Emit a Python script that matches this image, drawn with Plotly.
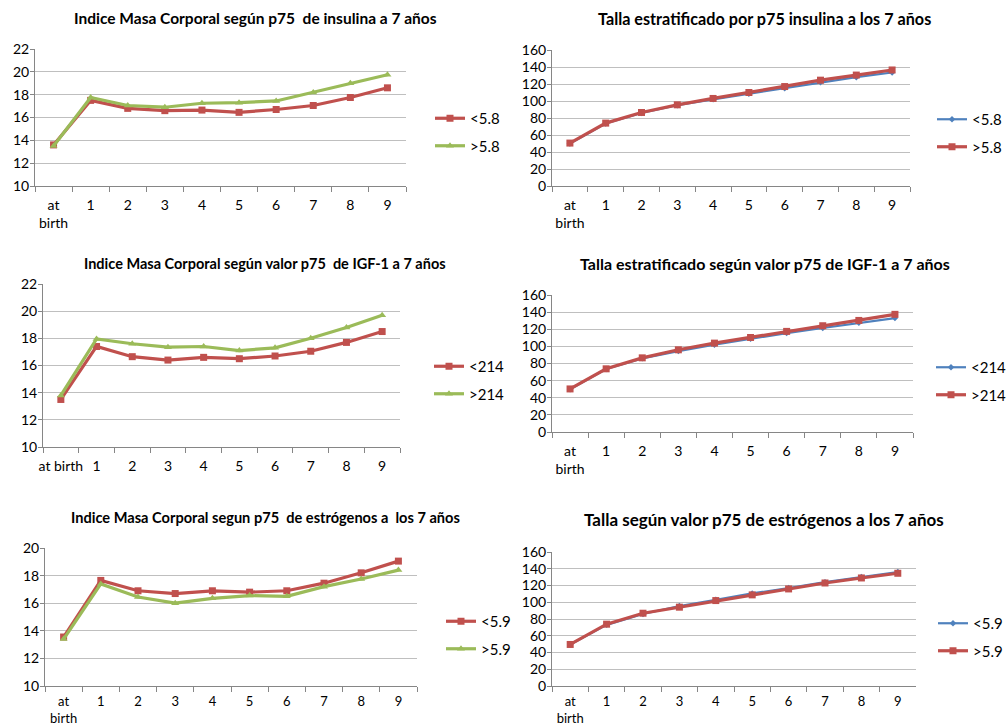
import plotly.graph_objects as go

# Age categories (x axis)
ages = ["at<br>birth", "1", "2", "3", "4", "5", "6", "7", "8", "9"]
ages_oneline = ["at birth", "1", "2", "3", "4", "5", "6", "7", "8", "9"]

# IMC by insulin p75
imc_ins_low = [13.6, 17.5, 16.8, 16.6, 16.65, 16.45, 16.7, 17.05, 17.75, 18.6]
imc_ins_high = [13.5, 17.75, 17.05, 16.9, 17.25, 17.3, 17.45, 18.2, 19.0, 19.75]
# Height by insulin p75
talla_ins_low = [50, 73.5, 86, 95, 102, 108.5, 115, 122, 128, 133.5]
talla_ins_high = [50.5, 74, 86.5, 95.5, 103, 110, 117, 124.5, 130.5, 136.5]

# IMC by IGF-1 p75
imc_igf_low = [13.5, 17.4, 16.65, 16.4, 16.6, 16.5, 16.7, 17.05, 17.7, 18.5]
imc_igf_high = [13.8, 17.95, 17.6, 17.35, 17.4, 17.1, 17.3, 18.0, 18.8, 19.7]
# Height by IGF-1 p75
talla_igf_low = [50, 73.5, 86, 94.5, 102, 109, 115.5, 121.5, 127.5, 133]
talla_igf_high = [50.3, 73.8, 86.6, 96, 103.8, 110.4, 117.5, 124.1, 130.3, 137.4]

# IMC by estrogen p75
imc_est_low = [13.55, 17.65, 16.9, 16.7, 16.9, 16.8, 16.9, 17.45, 18.2, 19.05]
imc_est_high = [13.4, 17.4, 16.45, 16.0, 16.35, 16.55, 16.5, 17.2, 17.75, 18.4]
# Height by estrogen p75
talla_est_low = [49.5, 73, 86, 95.5, 103, 110.5, 117, 124, 130, 136]
talla_est_high = [49.6, 73.8, 86.9, 94.1, 102, 108.8, 115.9, 123, 129, 134.6]

titles = [
    "Indice Masa Corporal según p75\u00a0 de insulina a 7 años",
    "Talla estratificado por p75 insulina a los 7 años",
    "Indice Masa Corporal según valor p75\u00a0 de IGF-1 a 7 años",
    "Talla estratificado según valor p75 de IGF-1 a 7 años",
    "Indice Masa Corporal segun p75\u00a0 de estrógenos a\u00a0 los 7 años",
    "Talla según valor p75 de estrógenos a los 7 años",
]

RED = "#C0504D"
GREEN = "#9BBB59"
BLUE = "#4F81BD"
GRID = "#BFBFBF"
AXIS = "#868686"
FONT = "Lato, Calibri, Arial, sans-serif"

W, H = 1006, 724


def px_x(v):
    return v / W


def px_y(v):
    return 1 - v / H


# plot areas in pixels: (x0, x1, ytop, ybottom)
boxes = [
    (35, 406, 49, 186),
    (552, 910, 50, 186),
    (43, 400, 284, 447),
    (552, 913, 295, 432),
    (45, 417, 548, 686),
    (552, 916, 552, 686),
]
# title centre (x, y) and font size
title_pos = [(255, 18, 15.5), (764, 19, 16.2), (265, 263, 14.5),
             (765, 264, 16.0), (265, 517, 14.6), (764, 519, 17.0)]
# legend top-left (x, y)
legend_pos = [(430, 102), (932, 103), (429, 350), (931, 351), (441, 605), (933, 607)]

fig = go.Figure()

panels = [
    (ages, [("<5.8", imc_ins_low, RED, "square", 3.2, 7),
            (">5.8", imc_ins_high, GREEN, "triangle-up", 3.2, 7)], (10, 22), 2),
    (ages, [("<5.8", talla_ins_low, BLUE, "diamond", 2.2, 5),
            (">5.8", talla_ins_high, RED, "square", 3.2, 7)], (0, 160), 20),
    (ages_oneline, [("<214", imc_igf_low, RED, "square", 3.2, 7),
                    (">214", imc_igf_high, GREEN, "triangle-up", 3.2, 7)], (10, 22), 2),
    (ages, [("<214", talla_igf_low, BLUE, "diamond", 2.2, 5),
            (">214", talla_igf_high, RED, "square", 3.2, 7)], (0, 160), 20),
    (ages, [("<5.9", imc_est_low, RED, "square", 3.2, 7),
            (">5.9", imc_est_high, GREEN, "triangle-up", 3.2, 7)], (10, 20), 2),
    (ages, [("<5.9", talla_est_low, BLUE, "diamond", 2.2, 5),
            (">5.9", talla_est_high, RED, "square", 3.2, 7)], (0, 160), 20),
]

layout = dict(
    width=W, height=H, margin=dict(l=0, r=0, t=0, b=0, autoexpand=False),
    paper_bgcolor="white", plot_bgcolor="white",
    font=dict(family=FONT, size=14, color="#000000"),
    showlegend=True, annotations=[],
)

for i, (cats, series, yr, dt) in enumerate(panels):
    n = i + 1
    xa = "x" if n == 1 else f"x{n}"
    ya = "y" if n == 1 else f"y{n}"
    leg = "legend" if n == 1 else f"legend{n}"
    bottom_row = n >= 5
    for j, (name, vals, col, sym, lw, ms) in enumerate(series):
        fig.add_trace(go.Scatter(
            x=cats, y=vals, name=name, mode="lines+markers",
            line=dict(color=col, width=lw),
            marker=dict(symbol=sym, size=ms, color=col),
            xaxis=xa, yaxis=ya, legend=leg, legendgroup=f"g{n}_{j}",
        ))
    x0, x1, yt, yb = boxes[i]
    layout["xaxis" if n == 1 else f"xaxis{n}"] = dict(
        domain=[px_x(x0), px_x(x1)], anchor=ya, type="category",
        tickson="boundaries", ticks="outside", ticklen=5, tickcolor=AXIS,
        showline=True, linecolor=AXIS, linewidth=1, showgrid=False,
        tickangle=0, ticklabelstandoff=3 if bottom_row else 6,
        tickfont=dict(size=13 if bottom_row else 14, color="#000000"),
        range=[-0.5, 9.5], fixedrange=True,
    )
    layout["yaxis" if n == 1 else f"yaxis{n}"] = dict(
        domain=[px_y(yb), px_y(yt)], anchor=xa, range=list(yr), dtick=dt,
        ticks="outside", ticklen=4, tickcolor=AXIS, showline=True,
        linecolor=AXIS, linewidth=1, showgrid=True, gridcolor=GRID,
        gridwidth=1, zeroline=False, ticklabelstandoff=-2,
        tickfont=dict(size=14, color="#000000"), fixedrange=True,
    )
    lx, ly = legend_pos[i]
    layout[leg] = dict(
        x=px_x(lx), y=px_y(ly), xanchor="left", yanchor="top",
        font=dict(size=15, family=FONT, color="#000000"),
        bgcolor="rgba(0,0,0,0)", tracegroupgap=5, itemwidth=30,
    )
    tx, ty, ts = title_pos[i]
    layout["annotations"].append(dict(
        text=f"<b>{titles[i]}</b>", x=px_x(tx), y=px_y(ty),
        xref="paper", yref="paper", xanchor="center", yanchor="middle",
        showarrow=False, font=dict(size=ts, family=FONT, color="#000000"),
    ))

fig.update_layout(**layout)
fig.write_html("out.html")
